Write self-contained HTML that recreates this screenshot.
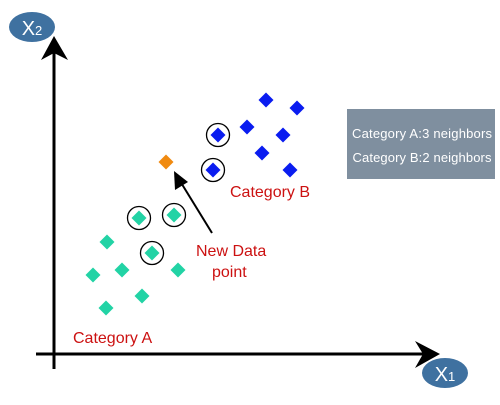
<!DOCTYPE html>
<html><head><meta charset="utf-8"><style>
body{margin:0;background:#fff;width:500px;height:400px;overflow:hidden;font-family:"Liberation Sans",sans-serif}
</style></head><body>
<svg id="chart" width="500" height="400">
<g id="axes">
<line x1="54" y1="50" x2="54" y2="369" stroke="#000" stroke-width="3"/>
<polygon points="54,36 41,60 54,53 68,60" fill="#000"/>
<line x1="36" y1="354" x2="425" y2="354" stroke="#000" stroke-width="3"/>
<polygon points="440,354 415,341 423,354 415,368" fill="#000"/>
<ellipse cx="32" cy="27" rx="23" ry="15" fill="#3f71a0"/>
<text x="32" y="35" text-anchor="middle" fill="#fff" font-size="20">X<tspan font-size="13">2</tspan></text>
<ellipse cx="445" cy="373" rx="23" ry="15" fill="#3f71a0"/>
<text x="445" y="381" text-anchor="middle" fill="#fff" font-size="20">X<tspan font-size="13">1</tspan></text>
</g>
<g id="marks"></g>
<line x1="212" y1="233" x2="180" y2="181" stroke="#000" stroke-width="2"/>
<polygon points="174,171 175,190 188,182" fill="#000"/>
<g fill="#cc1111" font-size="16">
<text x="230" y="197">Category B</text>
<text x="73" y="343">Category A</text>
<text x="196" y="256">New Data</text>
<text x="212" y="277">point</text>
</g>
<rect x="347" y="109" width="148" height="70" fill="#7f8f9f"/>
<text x="422" y="138" text-anchor="middle" fill="#fff" font-size="13" textLength="140">Category A:3 neighbors</text>
<text x="422" y="162" text-anchor="middle" fill="#fff" font-size="13" textLength="139">Category B:2 neighbors</text>
</svg>
<script>
const catAX=[5.3,3.9,6.8,8.8,5.2,12.4];
const catAY=[11.2,7.9,8.4,5.8,4.6,8.4];
const catANearX=[8.5,12.0,9.8];
const catANearY=[13.6,13.9,10.1];
const catBX=[21.2,24.3,19.3,22.9,20.8,23.6];
const catBY=[25.4,24.6,22.7,21.9,20.1,18.4];
const catBNearX=[16.4,15.9];
const catBNearY=[21.9,18.4];
const newX=[11.2];
const newY=[19.2];
const xs=v=>54+v*10, ys=v=>354-v*10;
const g=document.getElementById('marks');
const NS='http://www.w3.org/2000/svg';
function diamond(x,y,color,name){
  const p=document.createElementNS(NS,'polygon');
  const cx=xs(x),cy=ys(y),r=7.5;
  p.setAttribute('points',`${cx},${cy-r} ${cx+r},${cy} ${cx},${cy+r} ${cx-r},${cy}`);
  p.setAttribute('fill',color);
  
  
  g.appendChild(p);
}
function ring(x,y){
  const c=document.createElementNS(NS,'circle');
  c.setAttribute('cx',xs(x));c.setAttribute('cy',ys(y));c.setAttribute('r',11.5);
  c.setAttribute('fill','none');c.setAttribute('stroke','#000');c.setAttribute('stroke-width','1.3');
  
  
  g.appendChild(c);
}
catAX.forEach((x,i)=>diamond(x,catAY[i],'#22d3a5','category-a-point'));
catANearX.forEach((x,i)=>{ring(x,catANearY[i]);diamond(x,catANearY[i],'#22d3a5','category-a-neighbor');});
catBX.forEach((x,i)=>diamond(x,catBY[i],'#0a1cf0','category-b-point'));
catBNearX.forEach((x,i)=>{ring(x,catBNearY[i]);diamond(x,catBNearY[i],'#0a1cf0','category-b-neighbor');});
newX.forEach((x,i)=>diamond(x,newY[i],'#f08a10','new-data-point'));
</script>
</body></html>
